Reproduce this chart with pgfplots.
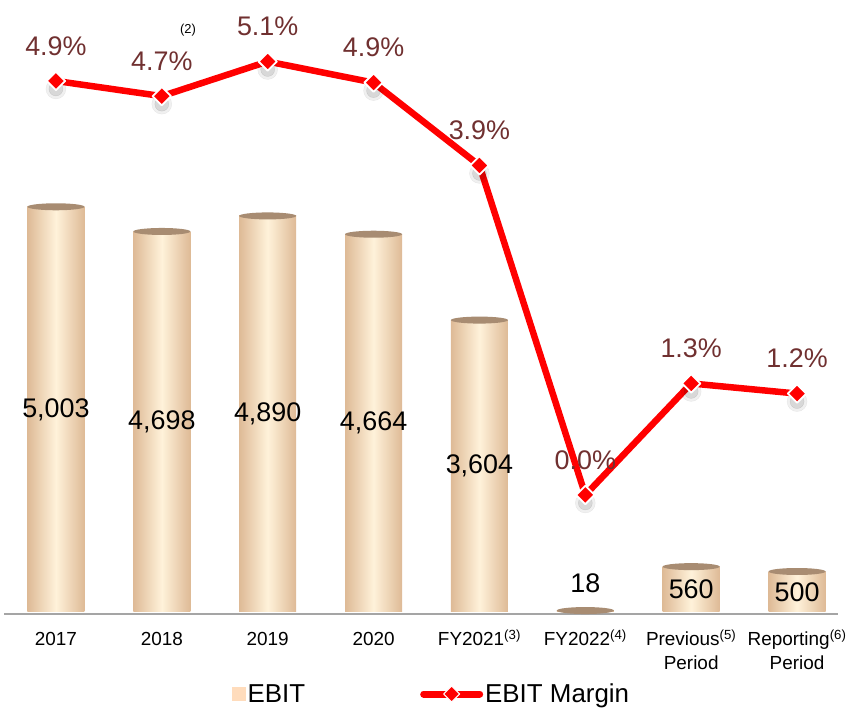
\documentclass[border=0pt]{standalone}
\usepackage{fontspec}
\setmainfont{Liberation Sans}
\usepackage{pgfplots}
\pgfplotsset{compat=1.18}
\usepackage{pgfplotstable}
\definecolor{barmid}{RGB}{255,242,218}
\definecolor{baredge}{RGB}{222,186,150}
\definecolor{bartop}{RGB}{168,140,114}
\definecolor{pctcol}{RGB}{112,48,48}
\definecolor{axgray}{RGB}{165,165,165}
\definecolor{legsq}{RGB}{255,220,188}
\pgfdeclareplotmark{cyltop}{\pgfpathellipse{\pgfpointorigin}{\pgfpoint{28.5bp}{0pt}}{\pgfpoint{0pt}{3.5bp}}\pgfusepathqfill}
\pgfplotstableread{
x ebit lab laby
0 5003 5,003 2501.5
1 4698 4,698 2349
2 4890 4,890 2445
3 4664 4,664 2332
4 3604 3,604 1802
5 18 18 358
6 560 560 280
7 500 500 250
}\ebit
\pgfplotstableread{
x m lab
0 4.90 4.9
1 4.72 4.7
2 5.13 5.1
3 4.88 4.9
4 3.90 3.9
5 0.00 0.0
6 1.32 1.3
7 1.20 1.2
}\margin
\begin{document}
\begin{tikzpicture}
\useasboundingbox (0,0) rectangle (848bp,710bp);
\begin{axis}[at={(3bp,98bp)}, anchor=south west, scale only axis,
  width=847bp, height=612bp, xmin=-0.5, xmax=7.5, ymin=0, ymax=7556,
  axis line style={draw=none}, tick style={draw=none}, ytick=\empty,
  xtick={0,...,7},
  xticklabels={2017,2018,2019,2020,FY2021\smash{\textsuperscript{(3)}},FY2022\smash{\textsuperscript{(4)}},Previous\smash{\textsuperscript{(5)}}\\Period,Reporting\smash{\textsuperscript{(6)}}\\Period},
  xticklabel style={font=\fontsize{19}{24}\selectfont, align=center, anchor=north, yshift=-20bp, inner sep=0pt},
  clip=false]
\draw[axgray, line width=2bp] ([yshift=-2bp]axis cs:-0.49,0) -- ([yshift=-2bp]axis cs:7.39,0);
\pgfplotsinvokeforeach{0,...,7}{
\addplot[ybar, bar width=57bp, bar shift=0pt, draw=none, left color=baredge, right color=baredge, middle color=barmid,
  x filter/.code={\ifnum\coordindex=#1\relax\else\def\pgfmathresult{}\fi}] table[x=x,y=ebit]{\ebit};
}
\addplot[only marks, mark=cyltop, mark options={fill=bartop, draw=none}] table[x=x,y=ebit]{\ebit};
\addplot[only marks, mark=none, nodes near coords, point meta=explicit symbolic,
  every node near coord/.append style={anchor=center, font=\fontsize{27}{30}\selectfont, text=black}] table[x=x,y=laby,meta=lab]{\ebit};
\end{axis}
\begin{axis}[at={(3bp,98bp)}, anchor=south west, scale only axis,
  width=847bp, height=612bp, xmin=-0.5, xmax=7.5, ymin=-1.385, ymax=5.858,
  hide axis, clip=false,
  legend columns=2,
  legend style={at={(0.2704,-0.134)}, anchor=west, draw=none, fill=none, inner sep=0pt,
    font=\fontsize{26}{30}\selectfont, /tikz/every even column/.append style={column sep=113bp}}]
\addplot[draw=none, forget plot, nodes near coords={\pgfplotspointmeta\%}, point meta=explicit symbolic,
  every node near coord/.append style={anchor=center, yshift=35bp, font=\fontsize{27}{30}\selectfont, text=pctcol}] table[x=x,y=m,meta=lab]{\margin};
\node[font=\fontsize{13}{15}\selectfont] at (axis cs:1.247,5.50) {(2)};
\addplot[forget plot, only marks, mark=*, mark size=10bp,
  mark options={fill=black, draw=none, opacity=0.06, yshift=-8bp}] table[x=x,y=m]{\margin};
\addplot[forget plot, only marks, mark=*, mark size=7bp,
  mark options={fill=black, draw=none, opacity=0.10, yshift=-8bp}] table[x=x,y=m]{\margin};
\addlegendimage{legend image code/.code={\fill[legsq] (0bp,-6.5bp) rectangle (13bp,6.5bp);}}
\addlegendentry{EBIT}
\addplot[red, line width=6.5bp, line join=round, mark=square*, mark size=6.5bp,
  mark options={rotate=45, fill=red, draw=white, line width=1.8bp, solid},
  legend image code/.code={\draw[red, line width=7bp, line cap=round] (0bp,0bp) -- (56bp,0bp);
    \path[fill=red, draw=white, line width=1bp] (20bp,0bp) -- (28bp,8bp) -- (36bp,0bp) -- (28bp,-8bp) -- cycle;}]
  table[x=x,y=m]{\margin};
\addlegendentry{EBIT Margin}
\end{axis}
\end{tikzpicture}
\end{document}
